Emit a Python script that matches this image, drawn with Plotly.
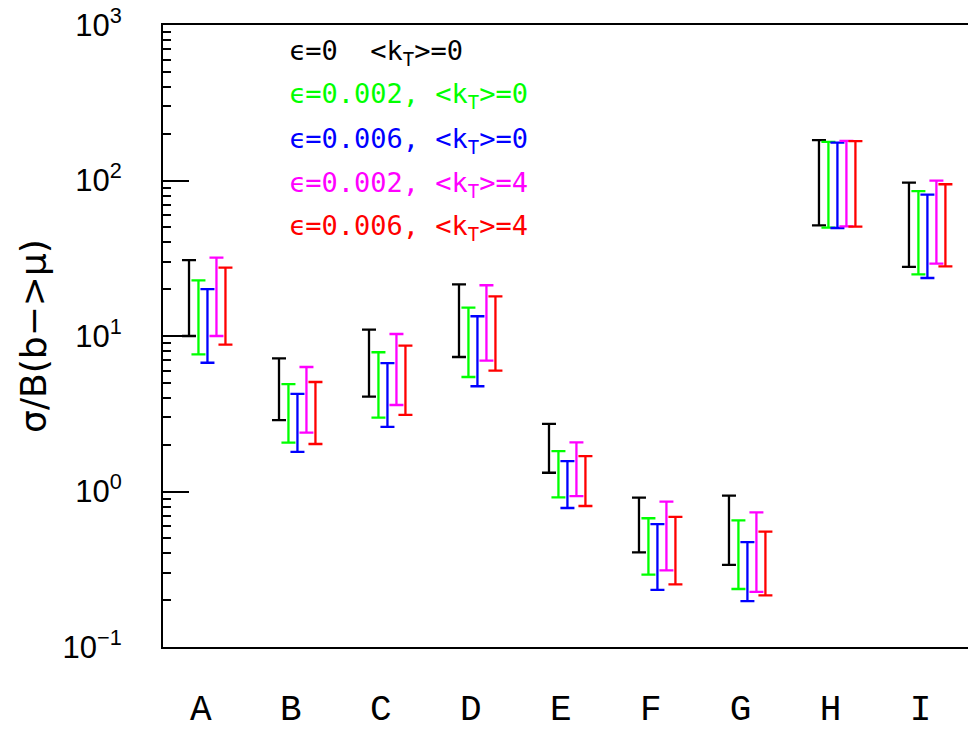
import plotly.graph_objects as go

# Categories along the x axis
categories = ["A", "B", "C", "D", "E", "F", "G", "H", "I"]

# Lower / upper edges of each band, one pair of lists per parameter set
black_lo   = [10.0, 2.88, 4.07, 7.33, 1.32, 0.406, 0.337, 51.5, 27.8]
black_hi   = [30.8, 7.19, 11.0, 21.5, 2.72, 0.912, 0.940, 182, 96.9]
green_lo   = [7.62, 2.06, 2.99, 5.45, 0.918, 0.292, 0.236, 49.8, 24.9]
green_hi   = [22.8, 4.91, 7.86, 15.2, 1.82, 0.673, 0.653, 177, 85.5]
blue_lo    = [6.73, 1.80, 2.60, 4.75, 0.783, 0.233, 0.197, 49.5, 23.6]
blue_hi    = [20.0, 4.24, 6.70, 13.4, 1.57, 0.616, 0.473, 175, 81.1]
magenta_lo = [10.0, 2.39, 3.60, 6.94, 0.935, 0.311, 0.226, 50.7, 29.2]
magenta_hi = [31.9, 6.32, 10.3, 21.2, 2.07, 0.860, 0.734, 180, 99.7]
red_lo     = [8.79, 2.02, 3.11, 5.98, 0.807, 0.253, 0.215, 50.5, 28.0]
red_hi     = [27.5, 5.06, 8.67, 18.0, 1.69, 0.686, 0.552, 179, 94.6]

series_labels = [
    "ϵ=0  &lt;k<sub>T</sub>&gt;=0",
    "ϵ=0.002, &lt;k<sub>T</sub>&gt;=0",
    "ϵ=0.006, &lt;k<sub>T</sub>&gt;=0",
    "ϵ=0.002, &lt;k<sub>T</sub>&gt;=4",
    "ϵ=0.006, &lt;k<sub>T</sub>&gt;=4",
]

series = [
    (black_lo, black_hi, "#000000", -0.13),
    (green_lo, green_hi, "#00ff00", -0.025),
    (blue_lo, blue_hi, "#0000ff", 0.075),
    (magenta_lo, magenta_hi, "#ff00ff", 0.175),
    (red_lo, red_hi, "#ff0000", 0.275),
]

positions = list(range(1, len(categories) + 1))

fig = go.Figure()
for lo, hi, color, shift in series:
    fig.add_trace(go.Scatter(
        x=[p + shift for p in positions],
        y=lo,
        mode="markers",
        marker=dict(size=1, color="rgba(0,0,0,0)"),
        error_y=dict(
            type="data",
            symmetric=False,
            array=[h - l for h, l in zip(hi, lo)],
            arrayminus=[0] * len(lo),
            color=color,
            thickness=2.3,
            width=7,
        ),
        showlegend=False,
        hoverinfo="skip",
    ))

major_vals = [0.1, 1, 10, 100, 1000]
major_text = ["10<sup>−1</sup>", "10<sup>0</sup>", "10<sup>1</sup>",
              "10<sup>2</sup>", "10<sup>3</sup>"]
minor_vals = [m * 10 ** e for e in range(-1, 3) for m in range(2, 10)]

yaxis_common = dict(
    type="log",
    range=[-1, 3],
    tickvals=major_vals,
    ticks="inside",
    ticklen=26,
    tickwidth=2,
    tickcolor="black",
    minor=dict(tickvals=minor_vals, ticks="inside", ticklen=8,
               tickwidth=2, tickcolor="black"),
    showgrid=False,
    zeroline=False,
    automargin=False,
)

fig.update_layout(
    width=968,
    height=732,
    margin=dict(l=163, r=0, t=25, b=85),
    paper_bgcolor="white",
    plot_bgcolor="white",
    xaxis=dict(
        range=[0.581, 9.526],
        tickvals=positions,
        ticktext=categories,
        ticks="",
        showline=True,
        linewidth=2,
        linecolor="black",
        mirror=True,
        showgrid=False,
        zeroline=False,
        automargin=False,
        tickfont=dict(family="Liberation Mono", size=36, color="black"),
        ticklabelstandoff=28,
    ),
    yaxis=dict(
        **yaxis_common,
        ticktext=major_text,
        showline=True,
        linewidth=2,
        linecolor="black",
        tickfont=dict(family="Liberation Sans", size=31, color="black"),
        ticklabelstandoff=33,
        title=dict(text="σ/B(b−&gt;μ)",
                   font=dict(family="DejaVu Sans", size=36, color="black"),
                   standoff=5),
    ),
    yaxis2=dict(
        **yaxis_common,
        overlaying="y",
        side="right",
        anchor="x",
        showticklabels=False,
        showline=False,
    ),
)

# Key text, one coloured line per parameter set
key_colors = [s[2] for s in series]
for i, (label, color) in enumerate(zip(series_labels, key_colors)):
    fig.add_annotation(
        text=label,
        xref="paper", yref="paper",
        x=(287 - 163) / 805, y=1 - (27 + 44 * i) / 622,
        xanchor="left", yanchor="middle",
        showarrow=False,
        font=dict(family="DejaVu Sans Mono", size=27, color=color),
    )

fig.write_html("out.html")
